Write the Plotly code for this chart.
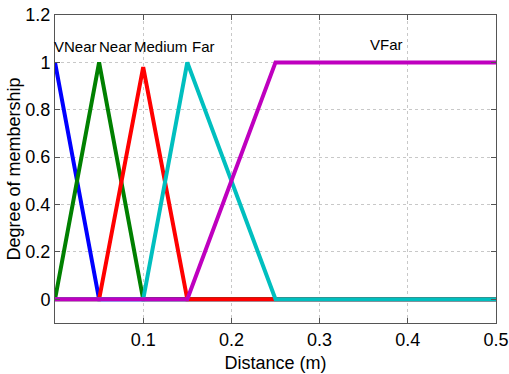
import plotly.graph_objects as go

x_pts = [0, 0.05, 0.1, 0.15, 0.25, 0.5]
vnear = [1, 0, 0, 0, 0, 0]
near = [0, 1, 0, 0, 0, 0]
medium = [0, 0, 0.98, 0, 0, 0]
far = [0, 0, 0, 1, 0, 0]
vfar = [0, 0, 0, 0, 1, 1]

names = ["VNear", "Near", "Medium", "Far", "VFar"]
series = [vnear, near, medium, far, vfar]
colors = ["#0000FF", "#008000", "#FF0000", "#00BFBF", "#BF00BF"]

label_x = [0.023, 0.0687, 0.120, 0.168, 0.376]
label_y = [1.065, 1.065, 1.065, 1.065, 1.075]

x_ticks = [0.1, 0.2, 0.3, 0.4, 0.5]
y_ticks = [0, 0.2, 0.4, 0.6, 0.8, 1, 1.2]

font = "Liberation Sans, Arial, sans-serif"

fig = go.Figure()
for n, s, c in zip(names, series, colors):
    fig.add_trace(go.Scatter(x=x_pts, y=s, mode="lines", name=n,
                             line=dict(color=c, width=4), showlegend=False))

for n, lx, ly in zip(names, label_x, label_y):
    fig.add_annotation(x=lx, y=ly, text=n, showarrow=False,
                       font=dict(size=15, color="black", family=font))

axis_common = dict(showline=True, mirror="ticks", linecolor="#555555", linewidth=1,
                   ticks="inside", ticklen=5, tickcolor="#555555", automargin=False,
                   showgrid=True, gridcolor="#C8C8C8", griddash="dot", gridwidth=1,
                   zeroline=False, tickfont=dict(size=18, color="black", family=font))

fig.update_xaxes(range=[0, 0.5], tickvals=x_ticks, ticktext=[str(v) for v in x_ticks],
                 title=dict(text="Distance (m)", font=dict(size=18, color="black", family=font), standoff=7),
                 **axis_common)
fig.update_yaxes(range=[-0.1, 1.2], tickvals=y_ticks, ticktext=["0", "0.2", "0.4", "0.6", "0.8", "1", "1.2"],
                 title=dict(text="Degree of membership", font=dict(size=18, color="black", family=font), standoff=0),
                 **axis_common)

fig.update_layout(width=509, height=374, margin=dict(l=55, r=13, t=15, b=51),
                  plot_bgcolor="white", paper_bgcolor="white",
                  font=dict(family=font))

fig.write_html("out.html")
